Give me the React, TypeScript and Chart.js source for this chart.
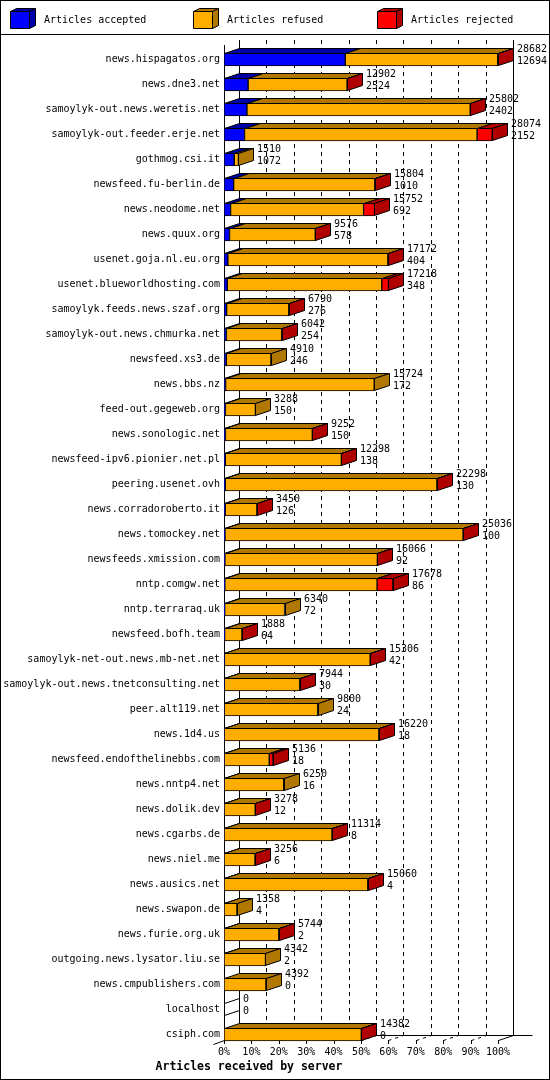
import { useEffect, useRef } from 'react';
import { Chart, registerables, type Plugin } from 'chart.js';

Chart.register(...registerables);

const servers = [
  'news.hispagatos.org', 'news.dne3.net', 'samoylyk-out.news.weretis.net', 'samoylyk-out.feeder.erje.net',
  'gothmog.csi.it', 'newsfeed.fu-berlin.de', 'news.neodome.net', 'news.quux.org',
  'usenet.goja.nl.eu.org', 'usenet.blueworldhosting.com', 'samoylyk.feeds.news.szaf.org',
  'samoylyk-out.news.chmurka.net', 'newsfeed.xs3.de', 'news.bbs.nz', 'feed-out.gegeweb.org',
  'news.sonologic.net', 'newsfeed-ipv6.pionier.net.pl', 'peering.usenet.ovh', 'news.corradoroberto.it',
  'news.tomockey.net', 'newsfeeds.xmission.com', 'nntp.comgw.net', 'nntp.terraraq.uk',
  'newsfeed.bofh.team', 'samoylyk-net-out.news.mb-net.net', 'samoylyk-out.news.tnetconsulting.net',
  'peer.alt119.net', 'news.1d4.us', 'newsfeed.endofthelinebbs.com', 'news.nntp4.net',
  'news.dolik.dev', 'news.cgarbs.de', 'news.niel.me', 'news.ausics.net', 'news.swapon.de',
  'news.furie.org.uk', 'outgoing.news.lysator.liu.se', 'news.cmpublishers.com', 'localhost', 'csiph.com',
];

// total articles offered (first label line)
const totals = [
  28682, 12902, 25802, 28074, 1510, 15804, 15752, 9576, 17172, 17218, 6790, 6042, 4910, 15724,
  3288, 9252, 12298, 22298, 3450, 25036, 16066, 17678, 6340, 1888, 15306, 7944, 9800, 16220,
  5136, 6250, 3278, 11314, 3256, 15060, 1358, 5744, 4342, 4392, 0, 14382,
];

const accepted = [
  12694, 2524, 2402, 2152, 1072, 1010, 692, 578, 404, 348, 276, 254, 246, 172, 150, 150, 138,
  130, 126, 100, 92, 86, 72, 64, 42, 30, 24, 18, 18, 16, 12, 8, 6, 4, 4, 2, 2, 0, 0, 0,
];

const refused = [
  15958, 10358, 23370, 24342, 438, 14774, 13920, 8978, 16748, 16170, 6504, 5778, 4664, 15552,
  3138, 9092, 12150, 22158, 3314, 24926, 15964, 15938, 6268, 1814, 15254, 7904, 9776, 16192,
  4718, 6234, 3256, 11296, 3240, 15046, 1354, 5732, 4340, 4392, 0, 14372,
];

const rejected = [
  30, 20, 30, 1580, 0, 20, 1140, 20, 20, 700, 10, 10, 0, 0, 0, 10, 10, 10, 10, 10, 10, 1654, 0,
  10, 10, 10, 0, 10, 400, 0, 10, 10, 10, 10, 0, 10, 0, 0, 0, 10,
];

const xTicks = [0, 10, 20, 30, 40, 50, 60, 70, 80, 90, 100];

const MONO = '"DejaVu Sans Mono", "Liberation Mono", monospace';
const DX = 15;
const DY = 5;

const series = [
  { label: 'Articles accepted', values: accepted, front: '#0000ff', dark: '#0000a8' },
  { label: 'Articles refused', values: refused, front: '#ffae00', dark: '#b07800' },
  { label: 'Articles rejected', values: rejected, front: '#ff0000', dark: '#b00000' },
];

const maxTotal = Math.max(...totals);
const toPct = (arr: number[]) => arr.map((v) => (v / maxTotal) * 100);

const poly = (ctx: CanvasRenderingContext2D, pts: number[][], fill?: string) => {
  ctx.beginPath();
  ctx.moveTo(pts[0][0], pts[0][1]);
  for (let i = 1; i < pts.length; i++) ctx.lineTo(pts[i][0], pts[i][1]);
  ctx.closePath();
  if (fill) {
    ctx.fillStyle = fill;
    ctx.fill();
  }
  ctx.stroke();
};

const line = (ctx: CanvasRenderingContext2D, x1: number, y1: number, x2: number, y2: number) => {
  ctx.beginPath();
  ctx.moveTo(x1, y1);
  ctx.lineTo(x2, y2);
  ctx.stroke();
};

const box3d: Plugin<'bar'> = {
  id: 'box3d',
  beforeDraw(chart) {
    const { ctx, width, height } = chart;
    ctx.save();
    ctx.fillStyle = '#fff';
    ctx.fillRect(0, 0, width, height);
    ctx.restore();
  },
  beforeDatasetsDraw(chart) {
    const { ctx } = chart;
    const xs = chart.scales.x;
    const bars = chart.getDatasetMeta(0).data as any[];
    const first = bars[0];
    const last = bars[bars.length - 1];
    const top = first.y - first.height / 2;
    const floor = last.y + last.height / 2;
    const px = (v: number) => Math.round(xs.getPixelForValue(v)) + 0.5;

    ctx.save();
    ctx.strokeStyle = '#000';
    ctx.lineWidth = 1;

    // dashed grid on the back wall
    ctx.setLineDash([4, 4]);
    xTicks.slice(1, -1).forEach((v) => line(ctx, px(v) + DX, top - 13, px(v) + DX, floor - DY));
    ctx.setLineDash([]);

    // back wall edges, front axis, floor
    line(ctx, px(0) + DX, top - 13, px(0) + DX, floor - DY);
    line(ctx, px(100) + DX, top - 13, px(100) + DX, floor - DY);
    line(ctx, px(0), top - 8, px(0), floor);
    line(ctx, px(0) + DX, floor - DY - 0.5, px(100) + DX + 19, floor - DY - 0.5);
    line(ctx, px(0), floor - 0.5, px(0) - 11, floor + 3.5);

    xTicks.forEach((v) => {
      line(ctx, px(v), floor - 1, px(v), floor + 3);
      if (v === 100) {
        line(ctx, px(v), floor - 0.5, px(v) + DX, floor - DY - 0.5);
      } else {
        ctx.setLineDash([3, 4]);
        line(ctx, px(v), floor - 0.5, px(v) + DX, floor - DY - 0.5);
        ctx.setLineDash([]);
      }
    });
    ctx.restore();
  },
  afterDatasetsDraw(chart) {
    const { ctx } = chart;
    const xs = chart.scales.x;
    const metas = series.map((_, d) => chart.getDatasetMeta(d).data as any[]);
    const r = (v: number) => Math.round(v) + 0.5;

    ctx.save();
    ctx.strokeStyle = '#000';
    ctx.lineWidth = 1;

    servers.forEach((_, i) => {
      const ref = metas[0][i];
      const yT = r(ref.y - ref.height / 2);
      const yB = r(ref.y + ref.height / 2 - 1);
      let end = xs.getPixelForValue(0);
      let sideColor: string | null = null;

      series.forEach((s, d) => {
        if (s.values[i] <= 0) return;
        const el = metas[d][i];
        const a = r(el.base);
        const b = r(el.x);
        poly(ctx, [[a, yT], [b, yT], [b + DX, yT - DY], [a + DX, yT - DY]], s.dark);
        end = el.x;
        sideColor = s.dark;
      });

      const e = r(end);
      if (sideColor) {
        poly(ctx, [[e, yT], [e + DX, yT - DY], [e + DX, yB - DY], [e, yB]], sideColor);
      } else {
        line(ctx, e, yT, e + DX, yT - DY);
        line(ctx, e, yB, e + DX, yB - DY);
      }

      ctx.fillStyle = '#000';
      ctx.font = `10px ${MONO}`;
      ctx.textAlign = 'left';
      ctx.textBaseline = 'middle';
      const tx = Math.round(end) + DX + 4;
      ctx.fillText(String(totals[i]), tx, ref.y - 10);
      ctx.fillText(String(accepted[i]), tx, ref.y + 1.5);
    });
    ctx.restore();
  },
  afterDraw(chart) {
    const { ctx, width, height } = chart;
    ctx.save();
    ctx.strokeStyle = '#000';
    ctx.lineWidth = 1;
    ctx.strokeRect(0.5, 0.5, width - 1, height - 1);
    line(ctx, 0, 34.5, width, 34.5);

    // legend with little 3d boxes
    series.forEach((s, k) => {
      const bx = 10 + Math.round(183.3 * k);
      const L = bx + 0.5;
      const R = bx + 19.5;
      const T = 11.5;
      const B = 28.5;
      poly(ctx, [[L, T], [R, T], [R, B], [L, B]], s.front);
      poly(ctx, [[L, T], [R, T], [R + 6, T - 3], [L + 6, T - 3]], s.dark);
      poly(ctx, [[R, T], [R + 6, T - 3], [R + 6, B - 3], [R, B]], s.dark);
      ctx.fillStyle = '#000';
      ctx.font = `10px ${MONO}`;
      ctx.textAlign = 'left';
      ctx.textBaseline = 'middle';
      ctx.fillText(s.label, bx + 34, 20.5);
    });
    ctx.restore();
  },
};

export default function App() {
  const canvasRef = useRef<HTMLCanvasElement>(null);

  useEffect(() => {
    document.body.style.margin = '0';
    if (!canvasRef.current) return;

    const chart = new Chart(canvasRef.current, {
      type: 'bar',
      data: {
        labels: servers,
        datasets: series.map((s) => ({
          label: s.label,
          data: toPct(s.values),
          backgroundColor: s.front,
          borderColor: '#000',
          borderWidth: 1,
          borderSkipped: false,
          barThickness: 13,
        })),
      },
      options: {
        indexAxis: 'y',
        responsive: false,
        animation: false,
        devicePixelRatio: 1,
        layout: { padding: { top: 47, right: 52, left: 0, bottom: 0 } },
        scales: {
          x: {
            stacked: true,
            min: 0,
            max: 100,
            afterBuildTicks: (scale) => {
              scale.ticks = xTicks.map((value) => ({ value }));
            },
            ticks: {
              callback: (v) => `${v}%`,
              font: { family: MONO, size: 10 },
              color: '#000',
              padding: -1,
              maxRotation: 0,
              autoSkip: false,
            },
            grid: { display: false, drawTicks: false },
            border: { display: false },
            afterFit: (scale) => {
              scale.height = 13;
            },
          },
          y: {
            stacked: true,
            ticks: {
              autoSkip: false,
              font: { family: MONO, size: 10 },
              color: '#000',
              padding: 4,
            },
            grid: { display: false, drawTicks: false },
            border: { display: false },
            afterFit: (scale) => {
              scale.width = 224;
            },
          },
        },
        plugins: {
          legend: { display: false },
          tooltip: { enabled: false },
          title: {
            display: true,
            position: 'bottom',
            text: 'Articles received by server',
            color: '#000',
            font: { family: MONO, size: 11.5, weight: 'bold', lineHeight: '14px' },
            padding: { top: 0, bottom: 6 },
          },
        },
      },
      plugins: [box3d],
    });

    return () => {
      chart.destroy();
    };
  }, []);

  return <canvas ref={canvasRef} width={550} height={1080} style={{ display: 'block' }} />;
}
